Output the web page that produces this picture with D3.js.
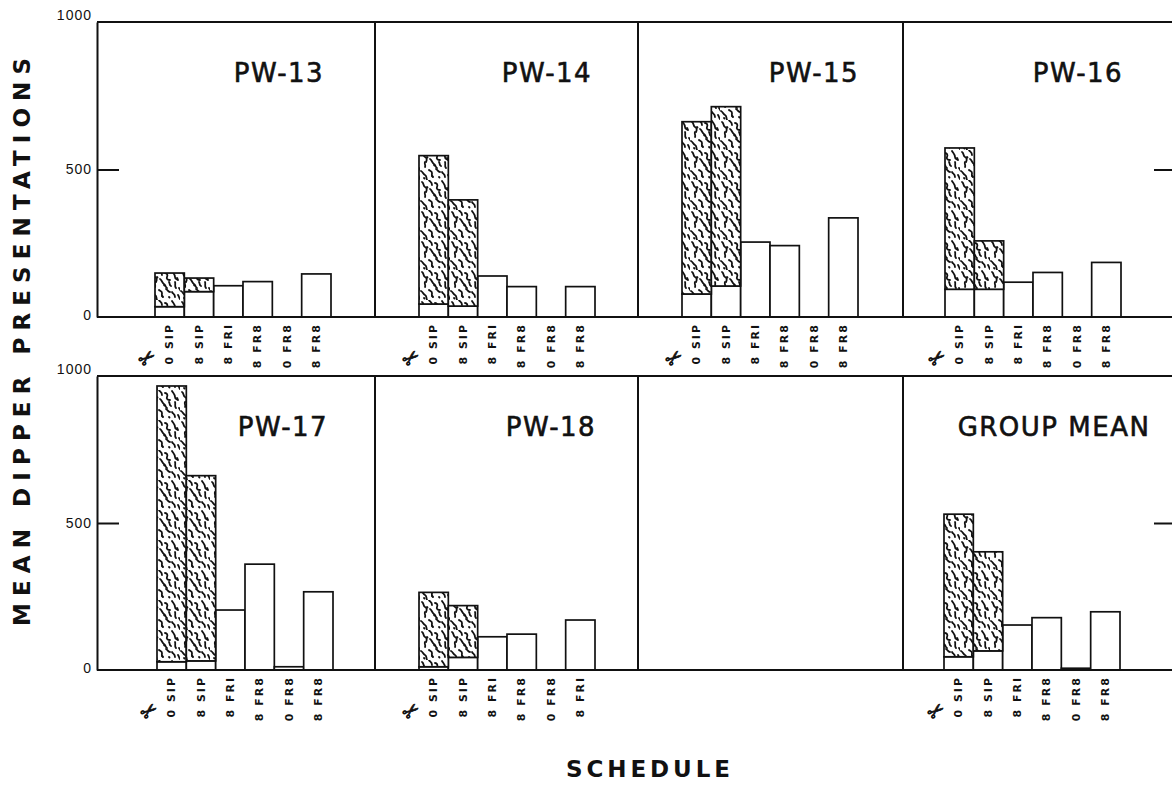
<!DOCTYPE html>
<html lang="en">
<head>
<meta charset="utf-8">
<title>Mean Dipper Presentations</title>
<script src="https://d3js.org/d3.v7.min.js"></script>
<style>
  body { margin: 0; background: #fff; }
  svg { display: block; font-family: "DejaVu Sans", sans-serif; }
  .frame { stroke: #111; stroke-width: 2; fill: none; }
  .axis path, .axis line { stroke: #111; stroke-width: 2; }
  .axis text { font-size: 14px; letter-spacing: 1px; fill: #111; }
  .bar { stroke: #111; stroke-width: 1.7; }
  .sched { font-size: 11px; font-weight: bold; letter-spacing: 2px; fill: #111; }
  .ptitle { font-size: 26px; letter-spacing: 1.5px; fill: #111; stroke: #111; stroke-width: 0.6; }
  .big { font-size: 23px; font-weight: bold; fill: #111; }
</style>
</head>
<body>
<script>
// panel names, left to right, top row then bottom row (one empty slot)
var panelNames = ["PW-13", "PW-14", "PW-15", "PW-16", "PW-17", "PW-18", null, "GROUP MEAN"];
var schedules = ["0 SIP", "8 SIP", "8 FRI", "8 FR8", "0 FR8", "8 FR8"];
var pw18Labels = ["0 SIP", "8 SIP", "8 FRI", "8 FR8", "0 FR8", "8 FRI"];

// lower (open) part of each bar and full bar height; the difference is the stippled part
var pw13White = [35, 86, 106, 120, 0, 146];
var pw13Total = [149, 132, 106, 120, 0, 146];
var pw14White = [44, 37, 139, 103, 0, 103];
var pw14Total = [547, 397, 139, 103, 0, 103];
var pw15White = [78, 105, 254, 242, 0, 336];
var pw15Total = [662, 713, 254, 242, 0, 336];
var pw16White = [94, 94, 118, 151, 0, 185];
var pw16Total = [573, 258, 118, 151, 0, 185];
var pw17White = [28, 31, 204, 360, 11, 266];
var pw17Total = [966, 661, 204, 360, 11, 266];
var pw18White = [11, 43, 113, 122, 0, 170];
var pw18Total = [264, 219, 113, 122, 0, 170];
var gmWhite = [45, 65, 153, 178, 6, 198];
var gmTotal = [530, 402, 153, 178, 6, 198];

var yTicks = [0, 500, 1000];

var panels = [
  { name: panelNames[0], white: pw13White, total: pw13Total, labels: schedules },
  { name: panelNames[1], white: pw14White, total: pw14Total, labels: schedules },
  { name: panelNames[2], white: pw15White, total: pw15Total, labels: schedules },
  { name: panelNames[3], white: pw16White, total: pw16Total, labels: schedules },
  { name: panelNames[4], white: pw17White, total: pw17Total, labels: schedules },
  { name: panelNames[5], white: pw18White, total: pw18Total, labels: pw18Labels },
  null,
  { name: panelNames[7], white: gmWhite, total: gmTotal, labels: schedules }
];

// layout
var w = 1172, h = 793;
var rows = [{ top: 22, base: 317 }, { top: 376, base: 670 }];
var colX = [97, 375, 638, 903, 1176];
var barStart = [[58, 44, 44, 42], [60, 44, 0, 41]];
var titleX = [[182, 172, 176, 175], [186, 176, 0, 151]];
var groupW = 176;

var svg = d3.select("body").append("svg")
    .attr("width", w)
    .attr("height", h);

// stippled / vermiculated fill
var pat = svg.append("defs").append("pattern")
    .attr("id", "stip")
    .attr("patternUnits", "userSpaceOnUse")
    .attr("width", 30).attr("height", 30);
pat.append("rect").attr("width", 30).attr("height", 30).attr("fill", "#fff");
var worms = [
  "M2,2 c2,1 1,4 3,5 s2,3 1,5", "M9,0 c1,2 3,2 3,5", "M15,3 c2,0 3,2 2,4 s1,3 3,3",
  "M22,1 c1,2 3,3 3,6 s2,2 3,3", "M5,12 c-1,2 1,3 0,5", "M10,9 c2,1 2,4 4,5 s1,3 3,4",
  "M19,12 c1,1 0,3 2,4", "M25,12 c1,2 -1,4 1,6", "M1,21 c2,1 2,3 4,4 s1,3 2,5",
  "M9,20 c1,1 3,1 3,3 s-1,2 1,4", "M16,19 c2,1 2,3 4,3", "M22,22 c1,2 3,2 3,5",
  "M28,25 c1,1 1,3 2,4", "M7,7 l0.5,0.5", "M14,15 l0.5,0.5", "M27,8 l0.5,0.5",
  "M4,28 l0.5,0.5", "M19,27 l0.5,0.5", "M12,26 l0.5,0.5", "M29,18 c1,1 1,2 2,3"
];
pat.selectAll("path").data(worms).join("path")
    .attr("d", function(d) { return d; })
    .attr("fill", "none")
    .attr("stroke", "#111")
    .attr("stroke-width", 1.8)
    .attr("stroke-linecap", "round");

rows.forEach(function(row, r) {
  var y = d3.scaleLinear().domain([0, 1000]).range([row.base, row.top]);

  // bars
  for (var c = 0; c < 4; c++) {
    var p = panels[r * 4 + c];
    if (!p) continue;
    var x0 = colX[c] + barStart[r][c];
    var x = d3.scaleBand().domain(d3.range(6)).range([x0, x0 + groupW]);
    var g = svg.append("g");

    g.selectAll("rect.open")
      .data(p.white.map(function(v, j) { return { j: j, v: v }; }).filter(function(d) { return d.v > 0; }))
      .join("rect")
        .attr("class", "bar open")
        .attr("x", function(d) { return x(d.j); })
        .attr("y", function(d) { return y(d.v); })
        .attr("width", x.bandwidth())
        .attr("height", function(d) { return y(0) - y(d.v); })
        .attr("fill", "#fff");

    g.selectAll("rect.stip")
      .data(p.total.map(function(v, j) { return { j: j, lo: p.white[j], hi: v }; }).filter(function(d) { return d.hi > d.lo; }))
      .join("rect")
        .attr("class", "bar stip")
        .attr("x", function(d) { return x(d.j); })
        .attr("y", function(d) { return y(d.hi); })
        .attr("width", x.bandwidth())
        .attr("height", function(d) { return y(d.lo) - y(d.hi); })
        .attr("fill", "url(#stip)");

    g.selectAll("text.sched")
      .data(p.labels)
      .join("text")
        .attr("class", "sched")
        .attr("text-anchor", "end")
        .attr("dominant-baseline", "central")
        .attr("transform", function(d, j) {
          return "translate(" + (x(j) + x.bandwidth() / 2) + "," + (row.base + 6) + ") rotate(-90)";
        })
        .text(function(d) { return d; });

    g.append("text")
      .attr("font-size", 20)
      .attr("fill", "#111")
      .attr("stroke", "#111")
      .attr("stroke-width", 0.8)
      .attr("text-anchor", "middle")
      .attr("dominant-baseline", "central")
      .attr("transform", "translate(" + (x0 - 8) + "," + (row.base + 41) + ") rotate(-40)")
      .text("\u2702");

    g.append("text")
      .attr("class", "ptitle")
      .attr("x", colX[c] + titleX[r][c])
      .attr("y", row.top + 60)
      .attr("text-anchor", "middle")
      .text(p.name);
  }

  // frame
  svg.append("line").attr("class", "frame")
    .attr("x1", colX[0]).attr("x2", w).attr("y1", row.top).attr("y2", row.top);
  svg.append("line").attr("class", "frame")
    .attr("x1", colX[0]).attr("x2", w).attr("y1", row.base).attr("y2", row.base);
  colX.slice(1, 4).forEach(function(cx) {
    svg.append("line").attr("class", "frame")
      .attr("x1", cx).attr("x2", cx).attr("y1", row.top).attr("y2", row.base);
  });

  // axes, ticks point inward
  var left = svg.append("g").attr("class", "axis")
      .attr("transform", "translate(" + colX[0] + ",0)")
      .call(d3.axisLeft(y).tickValues(yTicks).tickFormat(d3.format("d"))
        .tickSizeInner(-22).tickSizeOuter(0).tickPadding(5));
  left.selectAll("text")
      .attr("dy", function(d) { return d === 1000 ? "-0.15em" : d === 0 ? "0.15em" : "0.32em"; });
  left.selectAll(".tick line").filter(function(d) { return d !== 500; }).remove();

  svg.append("g").attr("class", "axis")
      .attr("transform", "translate(" + colX[4] + ",0)")
      .call(d3.axisRight(y).tickValues([500]).tickSizeInner(-22).tickSizeOuter(0).tickFormat(""));
});

// axis titles
svg.append("text")
    .attr("class", "big")
    .attr("text-anchor", "middle")
    .attr("transform", "translate(30,342) rotate(-90)")
    .attr("textLength", 568)
    .attr("lengthAdjust", "spacing")
    .text("MEAN DIPPER PRESENTATIONS");

svg.append("text")
    .attr("class", "big")
    .attr("x", 648)
    .attr("y", 777)
    .attr("text-anchor", "middle")
    .attr("textLength", 164)
    .attr("lengthAdjust", "spacing")
    .text("SCHEDULE");
</script>
</body>
</html>
